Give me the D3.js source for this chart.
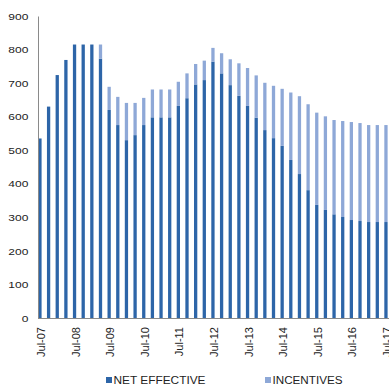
<!DOCTYPE html>
<html>
<head>
<meta charset="utf-8">
<script src="https://cdn.jsdelivr.net/npm/d3@7/dist/d3.min.js"></script>
<style>
  html, body { margin: 0; padding: 0; background: #fff; }
  svg { display: block; font-family: "Liberation Sans", Arial, sans-serif; }
</style>
</head>
<body>
<svg id="chart" width="389" height="388"></svg>
<script>
// Quarterly periods, Jul-07 .. Jul-17
const periods = [
  "Jul-07","Oct-07","Jan-08","Apr-08","Jul-08","Oct-08","Jan-09","Apr-09",
  "Jul-09","Oct-09","Jan-10","Apr-10","Jul-10","Oct-10","Jan-11","Apr-11",
  "Jul-11","Oct-11","Jan-12","Apr-12","Jul-12","Oct-12","Jan-13","Apr-13",
  "Jul-13","Oct-13","Jan-14","Apr-14","Jul-14","Oct-14","Jan-15","Apr-15",
  "Jul-15","Oct-15","Jan-16","Apr-16","Jul-16","Oct-16","Jan-17","Apr-17",
  "Jul-17"
];

const netEffective = [
  535, 630, 724, 769, 815, 815, 815, 773,
  620, 575, 530, 545, 575, 598, 598, 598,
  632, 655, 696, 709, 764, 729, 694, 662,
  632, 597, 560, 536, 513, 471, 429, 381,
  337, 322, 309, 301, 292, 289, 286, 286,
  286
];

const incentives = [
  0, 0, 0, 0, 0, 0, 0, 42,
  69, 84, 111, 96, 81, 83, 83, 83,
  72, 74, 61, 58, 41, 60, 77, 97,
  113, 126, 141, 156, 170, 201, 232, 256,
  275, 279, 281, 286, 292, 292, 289, 289,
  289
];

const xTickLabels = ["Jul-07","Jul-08","Jul-09","Jul-10","Jul-11","Jul-12","Jul-13","Jul-14","Jul-15","Jul-16","Jul-17"];
const yTicks = [0, 100, 200, 300, 400, 500, 600, 700, 800, 900];

const seriesNames = ["NET EFFECTIVE", "INCENTIVES"];
const colors = ["#2d65a8", "#8ea8d7"];

const svg = d3.select("#chart");

const plot = { left: 38, right: 389, top: 16, bottom: 318 };

const x = d3.scaleBand()
  .domain(periods)
  .range([plot.left + 0.3, 387.6])
  .paddingInner(0.62)
  .paddingOuter(0);

const y = d3.scaleLinear()
  .domain([0, 900])
  .range([plot.bottom, plot.top]);

const rows = periods.map((p, i) => ({ period: p, net: netEffective[i], inc: incentives[i] }));
const stacked = d3.stack().keys(["net", "inc"])(rows);

// Stacked bars: net effective at the base, incentives on top
svg.append("g")
  .selectAll("g")
  .data(stacked)
  .join("g")
  .attr("fill", (d, i) => colors[i])
  .selectAll("rect")
  .data(d => d)
  .join("rect")
  .attr("x", d => x(d.data.period))
  .attr("width", x.bandwidth())
  .attr("y", d => y(d[1]))
  .attr("height", d => Math.max(0, y(d[0]) - y(d[1])));

// Y axis
const yAxis = svg.append("g")
  .attr("transform", `translate(${plot.left},0)`)
  .call(d3.axisLeft(y).tickValues(yTicks).tickSize(0).tickPadding(10));
yAxis.select(".domain").attr("stroke", "#8a8a8a").attr("stroke-width", 1);
yAxis.selectAll("text")
  .attr("font-size", 8.7)
  .attr("fill", "#222")
  .attr("font-family", "Liberation Sans, Arial, sans-serif")
  .attr("x", null)
  .attr("dy", "0.36em")
  .attr("transform", "translate(-9.7,0) scale(1.38,1)");

// X axis
const xAxis = svg.append("g")
  .attr("transform", `translate(0,${plot.bottom})`)
  .call(d3.axisBottom(x).tickValues(xTickLabels).tickSize(0).tickSizeOuter(0).tickPadding(0));
xAxis.select(".domain")
  .attr("d", `M${plot.left},0.5H${plot.right}`)
  .attr("stroke", "#8a8a8a");
xAxis.selectAll("text")
  .attr("font-size", 11)
  .attr("fill", "#222")
  .attr("font-family", "Liberation Sans, Arial, sans-serif")
  .attr("text-anchor", "end")
  .attr("dy", null)
  .attr("y", 0)
  .attr("transform", "translate(5,9) rotate(-90)");

// Legend
const legend = svg.append("g");
const legendItems = [
  { name: seriesNames[0], color: colors[0], x: 106, w: 92 },
  { name: seriesNames[1], color: colors[1], x: 265, w: 70 }
];
legendItems.forEach(it => {
  legend.append("rect")
    .attr("x", it.x).attr("y", 377)
    .attr("width", 6).attr("height", 6)
    .attr("fill", it.color);
  legend.append("text")
    .attr("x", it.x + 7.5).attr("y", 383.5)
    .attr("font-size", 10)
    .attr("fill", "#222")
    .attr("textLength", it.w)
    .attr("lengthAdjust", "spacingAndGlyphs")
    .text(it.name);
});
</script>
</body>
</html>
